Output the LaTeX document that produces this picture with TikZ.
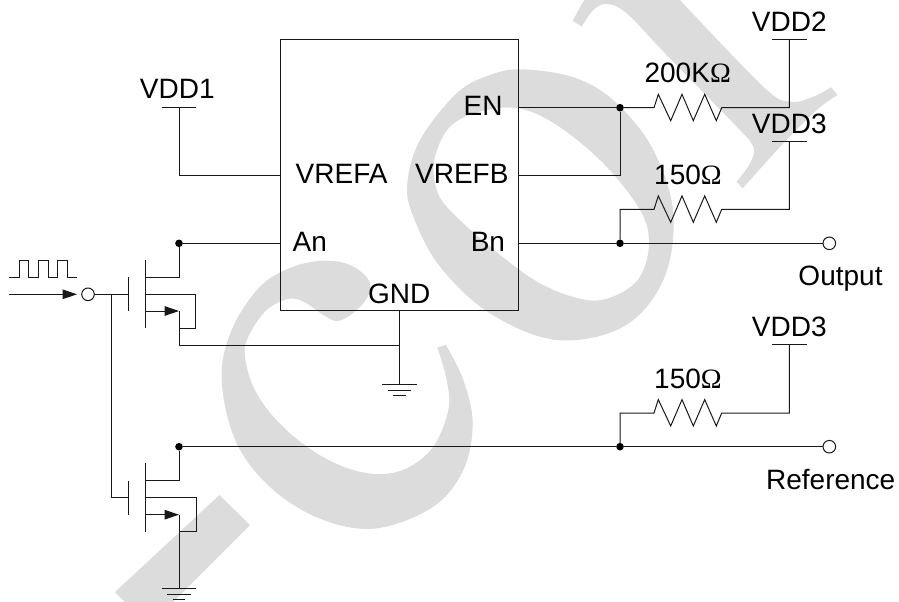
\documentclass[tikz,border=0pt]{standalone}
\usepackage{fontspec}
\setmainfont{Liberation Sans}
\newfontfamily\omegafont{Liberation Serif}
\usetikzlibrary{arrows.meta}
\definecolor{wmark}{HTML}{DCDCDC}
\newcommand{\ohm}{{\omegafont\char"03A9}}
\newcommand{\zigR}{-- ++(4.3,-13.4) -- ++(12.4,26.4) -- ++(11.3,-26.4) -- ++(11.3,26.4) -- ++(11.4,-26.4) -- ++(11.6,26.4) -- ++(5.4,-13)}
\tikzset{
  wire/.style={line width=1pt,black!90},
  lbl/.style={anchor=base,inner sep=0pt,outer sep=0pt,font=\fontsize{28}{30}\selectfont,text=black},
  jdot/.style={circle,fill=black,draw=none,minimum size=7.6pt,inner sep=0pt,outer sep=0pt},
  term/.style={circle,fill=white,draw=black!90,line width=1pt,minimum size=12.6pt,inner sep=0pt,outer sep=0pt},
  chipbox/.style={rectangle,draw=black!90,line width=1pt,minimum width=237.7pt,minimum height=271.5pt,inner sep=0pt,outer sep=0pt},
  tip/.style={-{Triangle[length=14.5pt,width=9.6pt]}},
  zoomed/.style={x=0.33333pt,y=-0.33333pt},
  wfill/.style={fill=wmark,draw=none}
}
\begin{document}
\begin{tikzpicture}[x=1pt,y=-1pt]
\useasboundingbox (0,0) rectangle (899,602);
\clip (0,0) rectangle (899,602);
% watermark
\begin{scope}[shift={(390,50)},zoomed]
\fill[wfill,even odd rule]
 plot[smooth cycle,tension=0.6] coordinates {(400,58)(560,85)(680,160)(790,300)(850,490)(820,690)(700,830)(500,870)(300,790)(150,650)(70,500)(52,400)(90,270)(200,130)(300,75)}
 plot[smooth cycle,tension=0.6] coordinates {(385,175)(500,225)(640,340)(750,480)(777,580)(750,680)(680,735)(590,750)(450,700)(300,590)(170,470)(135,400)(135,320)(180,230)(270,185)};
\end{scope}
\begin{scope}[shift={(200,240)},zoomed]
\fill[wfill]
 plot[smooth,tension=0.6] coordinates {(738,315)(790,420)(818,550)(790,690)(700,800)(530,865)(370,840)(220,750)(110,610)(65,420)(95,270)(180,140)(280,80)(380,62)(460,80)(510,130)(490,190)(420,242)(370,225)(320,190)(270,176)(200,210)(145,290)(135,350)(160,440)(220,530)(320,620)(430,680)(530,702)(620,685)(700,620)(745,510)(740,420)(712,322)} -- cycle;
\end{scope}
\begin{scope}[shift={(550,0)},zoomed]
\fill[wfill]
 (68,62) -- (105,-5) -- (385,-5) -- 
 plot[smooth,tension=0.6] coordinates {(385,-5)(640,260)(720,305)(790,290)(843,262)} -- (863,285) --
 plot[smooth,tension=0.6] coordinates {(863,285)(800,330)(700,430)(578,565)} -- (560,545) --
 plot[smooth,tension=0.6] coordinates {(560,545)(600,490)(610,440)(560,380)(350,165)(230,40)(170,12)(130,30)(95,80)} -- cycle;
\end{scope}
\fill[wfill] (219.5,495) -- (250,525) -- (173,602) -- (125,602) -- (115,592) -- cycle;

% chip
\node[chipbox] (chip) at (399.4,175.2) {};
\node[lbl,anchor=base east] (tEN) at (502.5,115.7) {EN};
\node[lbl,anchor=base east] (tVB) at (508.5,183.3) {VREFB};
\node[lbl,anchor=base west] (tVA) at (295.7,183.3) {VREFA};
\node[lbl,anchor=base west] (tAn) at (292.7,251.7) {An};
\node[lbl,anchor=base east] (tBn) at (505,251.7) {Bn};
\node[lbl] (tGND) at (399.3,303.3) {GND};

% supply labels
\node[lbl] (tV1) at (177.3,98.3) {VDD1};
\node[lbl] (tV2) at (789.3,32) {VDD2};
\node[lbl] (tV3a) at (789.3,133) {VDD3};
\node[lbl] (tV3b) at (789.3,336.7) {VDD3};
\node[lbl] (tR1) at (687.7,82.7) {200K\ohm};
\node[lbl] (tR2) at (688,184) {150\ohm};
\node[lbl] (tR3) at (688,388) {150\ohm};
\node[lbl] (tOut) at (840.5,285) {Output};
\node[lbl] (tRef) at (830.7,489.3) {Reference};

% coordinates
\coordinate (pEN) at (518.3,107.7);
\coordinate (pVB) at (518.3,175.3);
\coordinate (pBn) at (518.3,243.3);
\coordinate (pVA) at (280.5,175.3);
\coordinate (pAn) at (280.5,243.3);
\coordinate (pGND) at (399.3,311);
\node[jdot] (dEN) at (620,107.7) {};
\node[jdot] (dBn) at (620,243.3) {};
\node[jdot] (dRef) at (620,446.7) {};
\node[jdot] (dT1) at (179,243.3) {};
\node[jdot] (dT2) at (179,446.7) {};
\node[term] (oOut) at (829.3,243.3) {};
\node[term] (oRef) at (829.3,446.7) {};
\node[term] (oIn) at (88,294.3) {};

% supply bars
\coordinate (b1) at (179,107.7);
\coordinate (b2) at (789.3,39.7);
\coordinate (b3) at (789.3,141.3);
\coordinate (b4) at (789.3,344.7);
\foreach \b in {b1,b2,b3,b4}{\draw[wire] ([xshift=-17.3pt]\b) -- ([xshift=17.3pt]\b);}

% connections
\draw[wire] (b1) |- (pVA);
\draw[wire] (pEN) -- (dEN);
\draw[wire] (pVB) -| (dEN);
\draw[wire] (pBn) -- (dBn);
\draw[wire] (dBn) -- (oOut);
\draw[wire] (dEN) -- (654,107.7) \zigR -- (789.3,107.7) -- (b2);
\draw[wire] (dBn) -- (620,209.3) -- (654,209.3) \zigR -- (789.3,209.3) -- (b3);
\draw[wire] (dRef) -- (620,413) -- (654,413) \zigR -- (789.3,413) -- (b4);
\draw[wire] (dT1) -- (pAn);
\draw[wire] (dT2) -- (dRef);
\draw[wire] (dRef) -- (oRef);

% GND of chip
\coordinate (g1) at (399.3,384.4);
\coordinate (j1) at (399.3,345.3);
\draw[wire] (pGND) -- (g1);
\draw[wire] (382,384.4) -- (416.6,384.4);
\draw[wire] (388,390) -- (411,390);
\draw[wire] (393,395.8) -- (405.8,395.8);

% transistor 1
\draw[wire] (145,260) -- (145,328.3);
\draw[wire] (128,277.3) -- (128,311);
\draw[wire] (dT1) |- (145,277.3);
\draw[wire] (145,294.3) -| (195.7,328.3) -- (179,328.3);
\coordinate (s1) at (179,311);
\draw[wire,tip] (145,311) -- (s1);
\draw[wire] (s1) |- (j1);
\draw[wire] (oIn) -- (128,294.3);

% input
\draw[wire] (9,277.3) -- (19,277.3) -- (19,260) -- (28.7,260) -- (28.7,277.3) -- (38,277.3) -- (38,260) -- (48,260) -- (48,277.3) -- (57.3,277.3) -- (57.3,260) -- (67.3,260) -- (67.3,277.3) -- (77.3,277.3);
\coordinate (inL) at (9,294.3);
\coordinate (inT) at (77,294.3);
\draw[wire,tip] (inL) -- (inT);

% transistor 2
\draw[wire] (111,294.3) |- (128,497.7);
\draw[wire] (128,480.7) -- (128,514.7);
\draw[wire] (145,463.3) -- (145,531.7);
\draw[wire] (dT2) |- (145,480.7);
\draw[wire] (145,497.7) -| (196,531.7) -- (179,531.7);
\coordinate (s2) at (179,514.7);
\draw[wire,tip] (145,514.7) -- (s2);
\coordinate (g2) at (179,588.3);
\draw[wire] (s2) -- (g2);
\draw[wire] (161.7,588.3) -- (196,588.3);
\draw[wire] (167.3,594) -- (190.7,594);
\draw[wire] (172.7,599.7) -- (185,599.7);
\end{tikzpicture}
\end{document}
